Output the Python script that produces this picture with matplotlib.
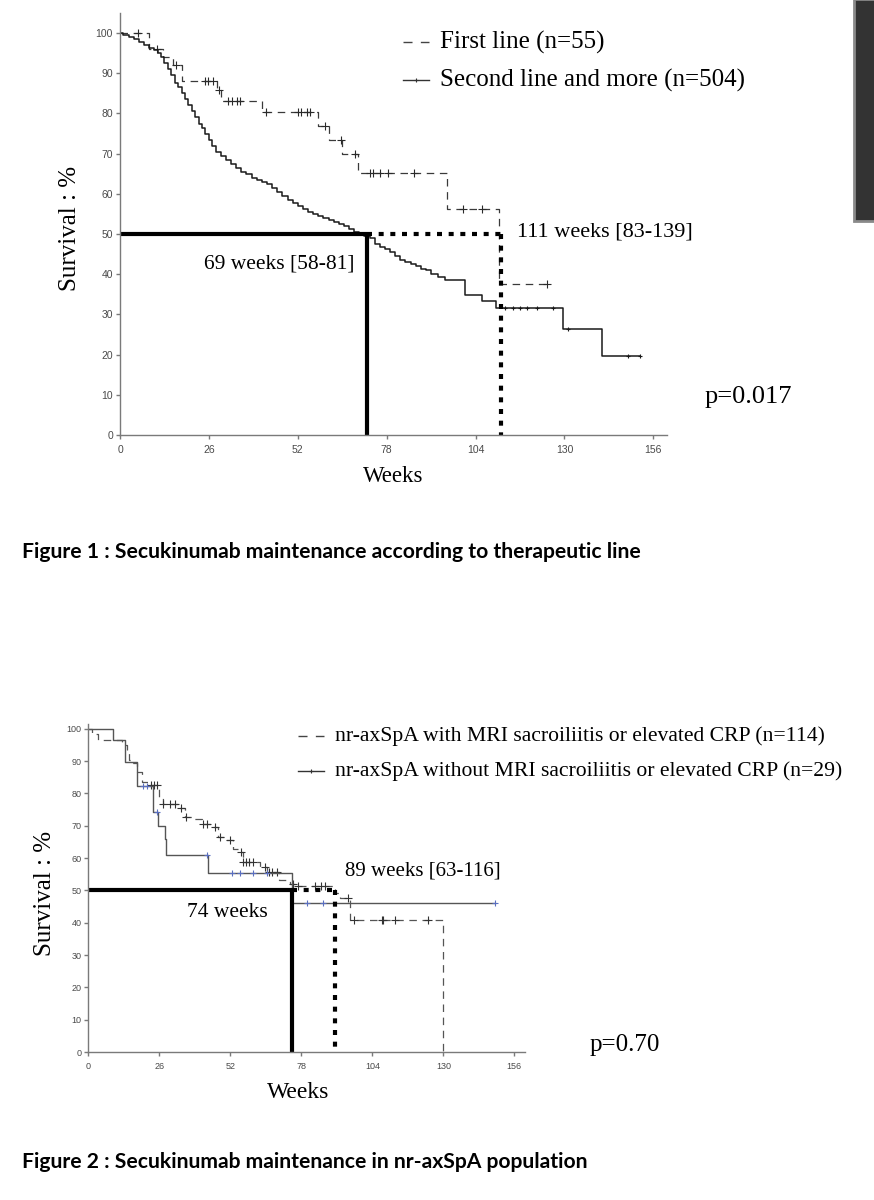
import numpy as np
import matplotlib.pyplot as plt
from matplotlib.lines import Line2D
from matplotlib.patches import Rectangle

# ---- shared axis stuff
week_ticks = [0, 26, 52, 78, 104, 130, 156]
surv_ticks = [0, 10, 20, 30, 40, 50, 60, 70, 80, 90, 100]

# ---- figure 1 : therapeutic line
second_t = [0, 1, 2.5, 4, 5.5, 7, 8.5, 10, 11, 12, 13, 14, 15, 16, 17, 18, 19, 20,
            21, 22, 23, 24, 25, 26, 27, 28, 29.5, 31, 32.5, 34, 35.5, 37, 38.5, 40,
            41.5, 43, 44.5, 46, 47.5, 49, 50.5, 52, 53.5, 55, 56.5, 58, 59.5, 61,
            62.5, 64, 65.5, 67, 68.5, 70, 71.5, 73, 74.5, 76, 77.5, 79, 80.5, 82,
            83.5, 85, 86.5, 88, 89.5, 91, 93, 95, 101, 106, 110, 129.5, 141]
second_s = [100, 99.5, 99, 98.5, 97.8, 97, 96.3, 95.7, 95, 94, 92.5, 91, 89.5, 87.5,
            86.5, 85, 83.5, 82, 80.5, 79, 77.5, 76.5, 75, 73.5, 72, 70.5, 69.5, 68.5,
            67.5, 66.5, 65.5, 65, 64, 63.5, 63, 62.5, 61.5, 60.5, 59.5, 58.5, 57.7,
            57, 56.3, 55.5, 55, 54.5, 54, 53.5, 53, 52.5, 52, 51.3, 50.5, 50, 49.5,
            49, 47.5, 46.8, 46.2, 45.5, 44.5, 43.5, 43, 42.5, 42, 41.3, 41, 40, 39.3,
            38.6, 34.8, 33.3, 31.7, 26.4, 19.7]
second_end = 152
second_cens = [112.6, 115, 117, 119, 122, 126.6, 131, 148.5, 152]

first_t = [0, 8.5, 12.5, 15.5, 18, 28.5, 29.5, 41.5, 58, 61, 65, 69.7, 95.6, 111]
first_s = [100, 96, 94, 92, 88, 85.8, 83.2, 80.4, 76.9, 73.4, 69.9, 65.2, 56.2, 37.5]
first_end = 125
first_cens = [5.3, 10.8, 16.4, 24.9, 25.7, 27.2, 29, 31.6, 32.7, 34.2, 35, 42.7, 52,
              53, 54.6, 55.5, 60, 64.6, 68.7, 73, 74, 76, 78.4, 86, 100.4, 105.8, 125]

med_second = 72.3
med_first = 111.3

# ---- figure 2 : nr-axSpA
with_t = [0, 1.5, 3.5, 12.5, 14, 15, 16.5, 18, 19.5, 22.5, 26, 27.3, 33, 35.5, 38.5,
          41.5, 45.5, 47.5, 50.5, 53, 55.5, 56.5, 63, 65.5, 70, 74, 75.5, 90.4, 92,
          95.8, 129.8]
with_s = [100, 98.5, 96.5, 95, 93.5, 90.5, 89.5, 86.6, 83.6, 82.5, 78.3, 76.7, 75.5,
          72.7, 72.2, 70.5, 69.6, 66.4, 65.6, 62.7, 61.8, 58.7, 57.1, 55.6, 53.2,
          51.9, 51.5, 49.3, 47.8, 40.8, 0]
with_end = 129.8
with_cens = [23, 24, 25, 27.5, 30, 31.8, 34, 35.8, 42, 43.3, 46.5, 48.1, 52, 55.9,
             56.8, 57.8, 59, 60.4, 64.6, 66, 67.3, 69, 75.1, 76.8, 82.9, 85.3, 86.5,
             95.1, 97.1, 107.5, 107.8, 112.3, 124.5]

without_t = [0, 9.2, 13.4, 17.7, 23.7, 25.5, 28, 28.5, 43.7, 74.7]
without_s = [100, 96.7, 89.7, 82.4, 74.2, 70, 65.8, 60.9, 55.3, 46]
without_end = 149
without_cens = [20.1, 21.4, 25, 43.3, 52.5, 55.6, 60.4, 65.3, 80, 86, 149]

med_without = 74.7
med_with = 90.4

SERIF = 'Liberation Serif'


def step_at(t, s, x):
    i = np.searchsorted(t, x, side='right') - 1
    return np.array(s)[i]


def km(ax, t, s, end, cens, ls, color, ccolor, lw=0.9, ms=5.5):
    ax.step(list(t) + [end], list(s) + [s[-1]], where='post', color=color, lw=lw, ls=ls)
    ax.plot(cens, step_at(t, s, cens), ls='none', marker='+', ms=ms, mew=0.8, color=ccolor)


def setup(ax, ymax, lsize):
    ax.set_xlim(0, 160)
    ax.set_ylim(0, ymax)
    ax.set_xticks(week_ticks)
    ax.set_yticks(surv_ticks)
    for sp in ['top', 'right']:
        ax.spines[sp].set_visible(False)
    for sp in ['left', 'bottom']:
        ax.spines[sp].set_color('#7a7a7a')
        ax.spines[sp].set_linewidth(1)
    ax.tick_params(length=3, width=1, color='#7a7a7a', labelsize=lsize,
                   labelcolor='#4a4a4a', pad=2)
    ax.tick_params(axis='x', pad=4)
    for lab in ax.get_xticklabels() + ax.get_yticklabels():
        lab.set_family('Liberation Sans')
    ax.patch.set_alpha(0)


def legend_row(fig, x, y, label, dashed, size):
    # x, y in pixels from top-left
    W, H = 874.0, 1200.0
    yy = 1 - y / H
    if dashed:
        fig.add_artist(Line2D([x / W, (x + 26) / W], [yy, yy], color='#444', lw=1,
                              ls=(0, (6.5, 6)), transform=fig.transFigure))
    else:
        fig.add_artist(Line2D([x / W, (x + 26) / W], [yy, yy], color='#333', lw=1,
                              transform=fig.transFigure))
        fig.add_artist(Line2D([(x + 13) / W], [yy], color='#333', marker='+', ms=3.5,
                              mew=0.8, transform=fig.transFigure))
    fig.text((x + 37) / W, yy, label, family=SERIF, fontsize=size, va='center', ha='left')


fig = plt.figure(figsize=(8.74, 12), dpi=100)
W, H = 874.0, 1200.0

# ---------- figure 1
ax1 = fig.add_axes([120 / W, 1 - 435 / H, 547 / W, 422 / H])
setup(ax1, 105, 7.5)
km(ax1, first_t, first_s, first_end, first_cens, (0, (6, 4.5)), '#3a3a3a', '#2a2a2a')
km(ax1, second_t, second_s, second_end, second_cens, '-', '#1a1a1a', '#1a1a1a', lw=1.1, ms=3)

ax1.plot([0, med_second], [50, 50], color='k', lw=3, solid_capstyle='butt')
ax1.plot([med_second, med_second], [50, 0], color='k', lw=3, solid_capstyle='butt')
ax1.plot([med_second, med_first], [50, 50], color='k', lw=3, ls=(0, (1.2, 1.6)))
ax1.plot([med_first, med_first], [50, 0], color='k', lw=3, ls=(0, (1.2, 1.6)))

ax1.text(68.7, 42.6, '69 weeks [58-81]', family=SERIF, fontsize=15.5, ha='right', va='center')
ax1.text(116, 50.6, '111 weeks [83-139]', family=SERIF, fontsize=16, ha='left', va='center')

fig.text(70 / W, 1 - 228 / H, 'Survival : %', family=SERIF, fontsize=18, rotation=90,
         ha='center', va='center')
fig.text(393 / W, 1 - 477 / H, 'Weeks', family=SERIF, fontsize=16.5, ha='center', va='center')
fig.text(705 / W, 1 - 397 / H, 'p=0.017', family=SERIF, fontsize=19, ha='left', va='center')

legend_row(fig, 403, 42, 'First line (n=55)', True, 18)
legend_row(fig, 403, 80, 'Second line and more (n=504)', False, 18)

fig.text(22 / W, 1 - 552 / H, 'Figure 1 : Secukinumab maintenance according to therapeutic line',
         family='Lato', fontweight='bold', fontsize=15.2, ha='left', va='center')

# ---------- figure 2
ax2 = fig.add_axes([88.3 / W, 1 - 1052 / H, 437 / W, 328 / H])
setup(ax2, 101.5, 6.5)
km(ax2, with_t, with_s, with_end, with_cens, (0, (6, 4.5)), '#555555', '#333333')
km(ax2, without_t, without_s, without_end, without_cens, '-', '#555555', '#5a6fc0', lw=1, ms=4.5)

ax2.plot([0, med_without], [50, 50], color='k', lw=3, solid_capstyle='butt')
ax2.plot([med_without, med_without], [50, 0], color='k', lw=3, solid_capstyle='butt')
ax2.plot([med_without, med_with], [50, 50], color='k', lw=3, ls=(0, (1.2, 1.6)))
ax2.plot([med_with, med_with], [50, 0], color='k', lw=3, ls=(0, (1.2, 1.6)))

ax2.text(94, 56, '89 weeks [63-116]', family=SERIF, fontsize=15, ha='left', va='center')
ax2.text(36.2, 43.2, '74 weeks', family=SERIF, fontsize=15.5, ha='left', va='center')

fig.text(45 / W, 1 - 893 / H, 'Survival : %', family=SERIF, fontsize=18, rotation=90,
         ha='center', va='center')
fig.text(298 / W, 1 - 1092 / H, 'Weeks', family=SERIF, fontsize=17, ha='center', va='center')
fig.text(590 / W, 1 - 1045 / H, 'p=0.70', family=SERIF, fontsize=18, ha='left', va='center')

legend_row(fig, 298, 736, 'nr-axSpA with MRI sacroiliitis or elevated CRP (n=114)', True, 15.6)
legend_row(fig, 298, 771, 'nr-axSpA without MRI sacroiliitis or elevated CRP (n=29)', False, 15.6)

fig.text(22 / W, 1 - 1162 / H, 'Figure 2 : Secukinumab maintenance in nr-axSpA population',
         family='Lato', fontweight='bold', fontsize=15.2, ha='left', va='center')

# dark bar on the right edge
fig.add_artist(Rectangle((854 / W, 1 - 221 / H), 22 / W, 222 / H, transform=fig.transFigure,
                         facecolor='#333333', edgecolor='#8a8a8a', lw=2))

fig.savefig('out.png', dpi=100)
